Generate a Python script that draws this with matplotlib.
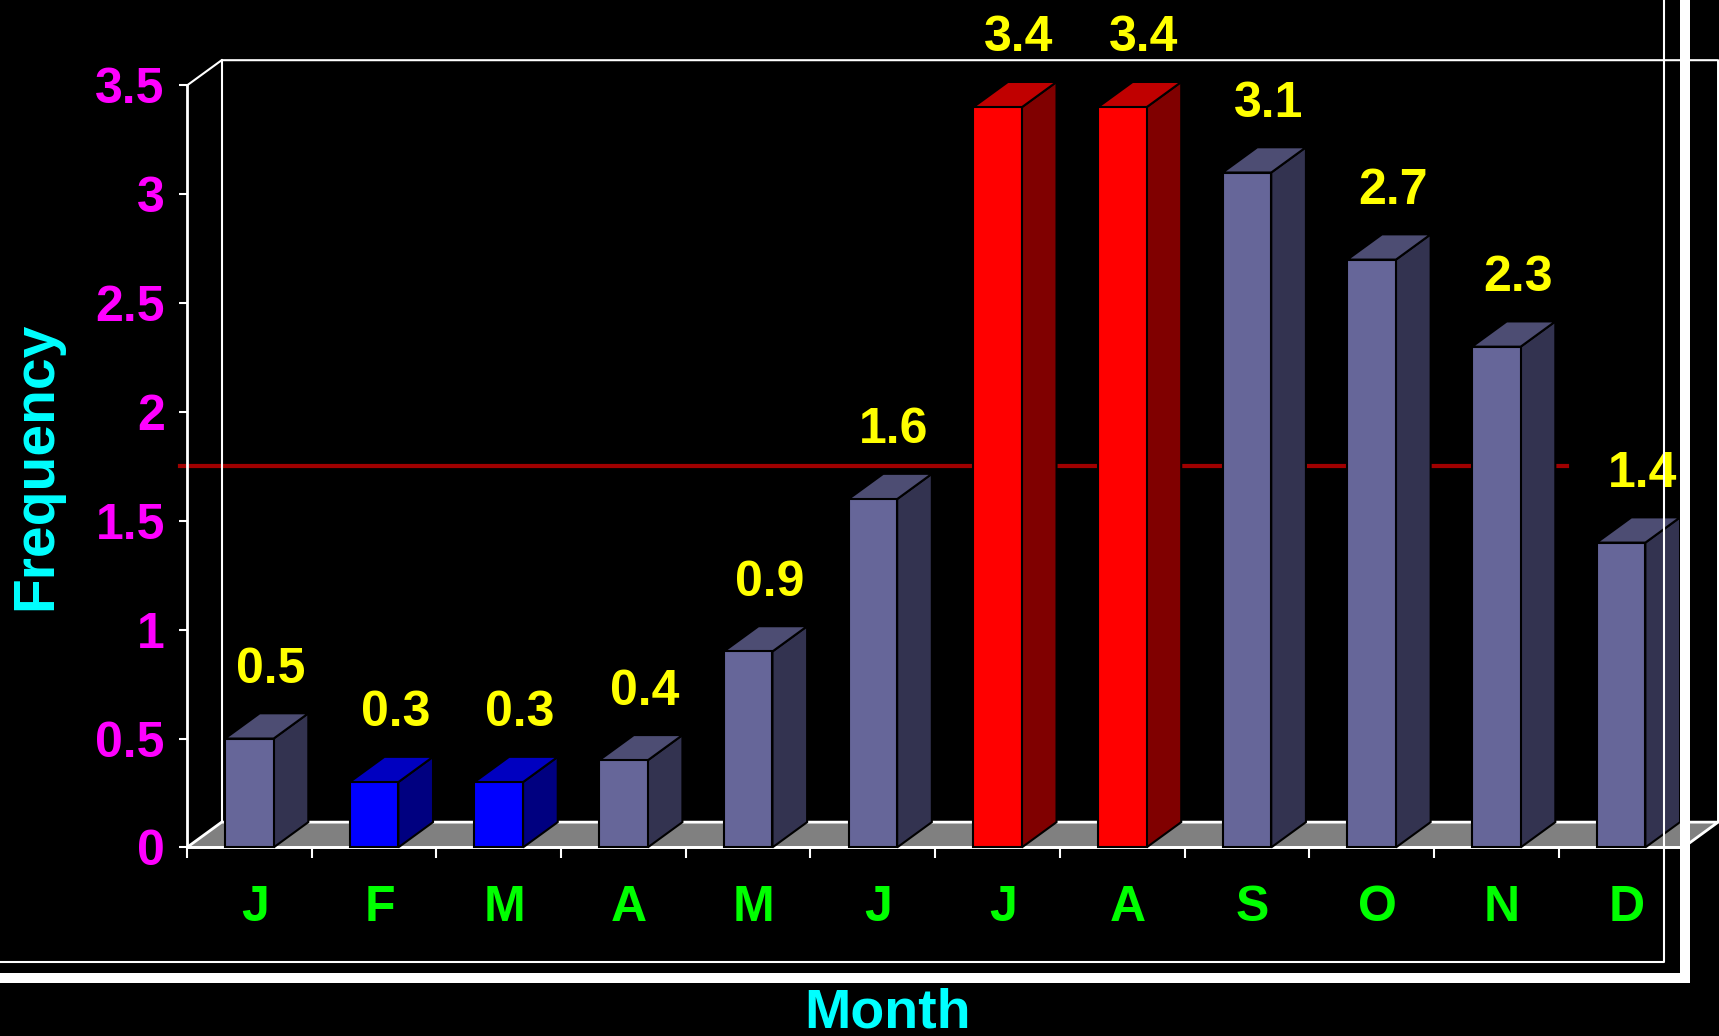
import matplotlib
matplotlib.use('Agg')
import matplotlib.pyplot as plt
from matplotlib.patches import Polygon
from matplotlib.lines import Line2D

# data
months = ['J', 'F', 'M', 'A', 'M', 'J', 'J', 'A', 'S', 'O', 'N', 'D']
frequency = [0.5, 0.3, 0.3, 0.4, 0.9, 1.6, 3.4, 3.4, 3.1, 2.7, 2.3, 1.4]
bar_group = ['normal', 'low', 'low', 'normal', 'normal', 'normal',
             'high', 'high', 'normal', 'normal', 'normal', 'normal']
y_ticks = [0, 0.5, 1, 1.5, 2, 2.5, 3, 3.5]
y_tick_labels = ['0', '0.5', '1', '1.5', '2', '2.5', '3', '3.5']
ref_level = 1.75

# front / top / side colours per group
face = {'normal': ('#666699', '#4d4d73', '#333350'),
        'low': ('#0000ff', '#0000c0', '#000080'),
        'high': ('#ff0000', '#c00000', '#800000')}

plt.rcParams['font.family'] = ['Liberation Sans', 'DejaVu Sans']
plt.rcParams['font.weight'] = 'bold'

W, H = 1719, 1036
fig = plt.figure(figsize=(W / 100, H / 100), dpi=100, facecolor='black')
ax = fig.add_axes([0.10878, 0.18205, 0.87051, 0.73547])
ax.set_facecolor('none')
n = len(months)
top = 3.5
ax.set_xlim(0, n)
ax.set_ylim(0, top)

dx, dy = 0.278, 0.116   # depth offset of the fake 3d
bw = 0.39

# floor
ax.add_patch(Polygon([(0, 0), (n, 0), (n + dx, dy), (dx, dy)], closed=True,
                     facecolor='#808080', edgecolor='white', lw=2,
                     clip_on=False, zorder=1))
# back wall outline
ax.plot([0, dx, n + dx, n + dx], [top, top + dy, top + dy, dy],
        color='white', lw=1.5, clip_on=False, zorder=2)
ax.plot([dx, dx], [dy, top + dy], color='white', lw=1.5, clip_on=False, zorder=2)

# reference line
ax.plot([-0.06, 11.07], [ref_level, ref_level], color='#a00000', lw=3,
        clip_on=False, zorder=1.5)

# bars
for i, (v, g) in enumerate(zip(frequency, bar_group)):
    x0 = i + 0.5 - bw / 2
    x1 = x0 + bw
    fc, tc, sc = face[g]
    ax.add_patch(Polygon([(x1, 0), (x1 + dx, dy), (x1 + dx, v + dy), (x1, v)],
                         facecolor=sc, edgecolor='black', lw=1.5, clip_on=False, zorder=3))
    ax.add_patch(Polygon([(x0, v), (x1, v), (x1 + dx, v + dy), (x0 + dx, v + dy)],
                         facecolor=tc, edgecolor='black', lw=1.5, clip_on=False, zorder=3))
    ax.add_patch(Polygon([(x0, 0), (x1, 0), (x1, v), (x0, v)],
                         facecolor=fc, edgecolor='black', lw=1.5, clip_on=False, zorder=3))
    ax.text(i + 0.5 + 0.17, v + dy + 0.20, f'{v:.1f}', color='#ffff00',
            fontsize=36, ha='center', va='center', clip_on=False)

for s in ['top', 'right']:
    ax.spines[s].set_visible(False)
for s in ['left', 'bottom']:
    ax.spines[s].set_color('white')
    ax.spines[s].set_linewidth(2)

ax.set_yticks(y_ticks, y_tick_labels)
ax.tick_params(axis='y', colors='white', labelcolor='#ff00ff', labelsize=36,
               length=6, width=1.5, pad=10)
ax.set_xticks(range(n + 1), [''] * (n + 1))
ax.set_xticks([i + 0.545 for i in range(n)], months, minor=True)
ax.tick_params(axis='x', which='major', colors='white', length=8, width=1.5)
ax.tick_params(axis='x', which='minor', length=0, labelcolor='#00ff00',
               labelsize=36, pad=27)

fig.text(36 / W, 1 - 466 / H, 'Frequency', rotation=90, color='#00ffff',
         fontsize=41, ha='center', va='center')
fig.text(888 / W, 1 - 987 / H, 'Month', color='#00ffff', fontsize=40,
         ha='center', va='top')

# slide frame lines
fig.add_artist(Line2D([0, 1664 / W, 1664 / W], [1 - 962 / H, 1 - 962 / H, 1],
                      color='white', lw=1.5, transform=fig.transFigure))
fig.add_artist(Line2D([0, 1684.5 / W, 1684.5 / W], [1 - 978 / H, 1 - 978 / H, 1],
                      color='white', lw=7.2, solid_joinstyle='miter',
                      transform=fig.transFigure))

fig.savefig('out.png', dpi=100, facecolor='black')
